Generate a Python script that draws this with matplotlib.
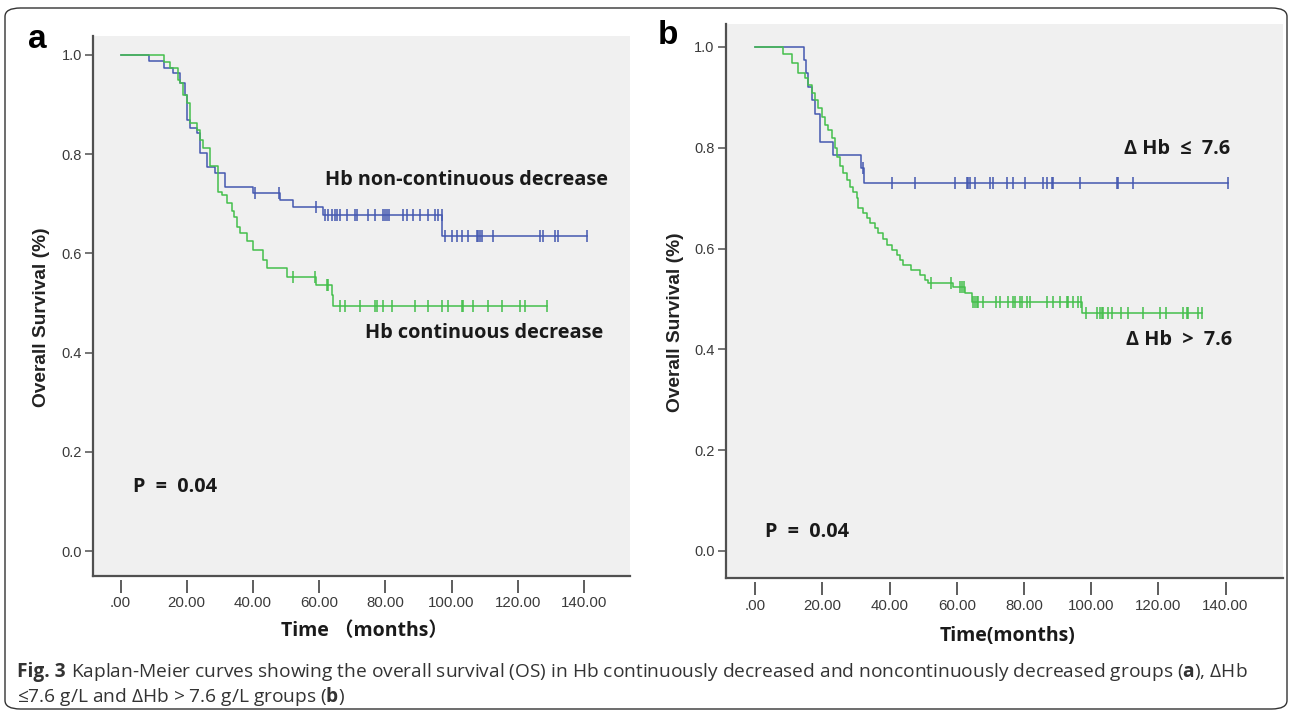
import numpy as np
import matplotlib
matplotlib.use("Agg")
import matplotlib.pyplot as plt
from matplotlib.patches import FancyBboxPatch

# ---- data ----
# panel a: Hb non-continuous decrease (blue) / continuous decrease (green)
a_blue_t = [0, 8.7, 13.1, 16.0, 18.0, 19.5, 20.0, 21.0, 23.0, 24.0, 26.0, 28.5, 31.6,
            40.1, 48.2, 52.2, 61.3, 97.2]
a_blue_s = [1.0, 0.987, 0.973, 0.963, 0.943, 0.919, 0.869, 0.852, 0.842, 0.802, 0.775,
            0.761, 0.734, 0.721, 0.708, 0.693, 0.677, 0.635]
a_blue_cens = [40.6, 47.9, 59.1, 61.8, 62.8, 63.8, 64.8, 65.5, 66.3, 68.3, 70.8, 71.4,
               74.9, 76.9, 79.4, 79.9, 80.4, 81.2, 85.4, 86.5, 88.5, 90.5, 93.0, 95.0,
               96.0, 97.0, 98.0, 100.1, 101.6, 103.1, 105.1, 107.6, 108.1, 108.6, 109.1,
               112.6, 126.7, 127.7, 131.3, 132.3, 140.8]

a_green_t = [0, 13.1, 15.0, 17.5, 18.0, 19.0, 20.0, 21.0, 23.0, 24.0, 25.0, 27.0, 29.4,
             30.6, 32.1, 33.6, 34.4, 35.1, 36.1, 38.1, 40.1, 43.1, 44.2, 50.2, 59.2,
             63.8, 64.3]
a_green_s = [1.0, 0.985, 0.973, 0.95, 0.943, 0.919, 0.903, 0.862, 0.849, 0.829, 0.812,
             0.776, 0.724, 0.718, 0.701, 0.686, 0.674, 0.654, 0.641, 0.624, 0.607, 0.587,
             0.570, 0.553, 0.536, 0.516, 0.493]
a_green_cens = [52.0, 58.6, 62.4, 62.8, 66.3, 67.8, 72.4, 76.9, 77.4, 79.4, 81.9, 89.0,
                93.0, 97.0, 99.0, 103.1, 103.6, 106.6, 111.1, 115.2, 120.7, 122.2, 128.8]

# panel b: dHb <= 7.6 (blue) / dHb > 7.6 (green)
b_blue_t = [0, 14.5, 15.0, 15.8, 16.8, 17.8, 19.3, 23.0, 31.5, 32.3]
b_blue_s = [1.0, 0.974, 0.948, 0.921, 0.895, 0.868, 0.812, 0.786, 0.759, 0.731]
b_blue_cens = [32.0, 40.8, 47.5, 59.4, 62.9, 63.4, 63.9, 65.4, 69.9, 70.8, 74.8, 76.8,
               80.3, 85.7, 86.7, 88.2, 88.7, 96.6, 107.6, 108.0, 112.5, 140.8]

b_green_t = [0, 8.3, 10.8, 12.8, 14.8, 15.8, 16.8, 17.8, 18.8, 19.8, 20.7, 21.7, 22.7,
             23.7, 24.2, 25.2, 26.2, 27.2, 28.2, 29.2, 30.2, 30.7, 32.1, 33.2, 34.1,
             35.6, 36.6, 38.1, 39.1, 40.6, 42.1, 43.1, 44.1, 46.5, 49.0, 50.5, 51.5,
             58.9, 62.3, 64.4, 97.3]
b_green_s = [1.0, 0.986, 0.968, 0.949, 0.938, 0.925, 0.908, 0.895, 0.878, 0.862, 0.845,
             0.835, 0.819, 0.799, 0.782, 0.763, 0.749, 0.736, 0.723, 0.713, 0.700, 0.680,
             0.670, 0.660, 0.650, 0.640, 0.630, 0.620, 0.607, 0.597, 0.587, 0.577, 0.567,
             0.558, 0.548, 0.538, 0.531, 0.524, 0.511, 0.495, 0.472]
b_green_cens = [52.2, 58.4, 61.0, 61.5, 62.0, 64.9, 65.4, 65.9, 66.4, 67.9, 71.8, 72.8,
                75.3, 76.8, 77.3, 78.8, 79.3, 80.8, 81.8, 86.7, 88.7, 90.7, 92.7, 93.2,
                94.6, 96.1, 97.1, 98.6, 101.6, 102.6, 103.1, 103.6, 105.1, 106.1, 109.0,
                111.0, 115.5, 120.4, 122.4, 127.4, 128.4, 128.9, 131.8, 132.9]

x_ticks = [0, 20, 40, 60, 80, 100, 120, 140]
x_labels = [".00", "20.00", "40.00", "60.00", "80.00", "100.00", "120.00", "140.00"]
y_ticks = [0.0, 0.2, 0.4, 0.6, 0.8, 1.0]

BLUE = "#4458b0"
GREEN = "#44bf4c"
BG = "#f0f0f0"
SPINE = "#505050"

plt.rcParams["mathtext.fontset"] = "custom"
plt.rcParams["mathtext.bf"] = "Open Sans:bold"
plt.rcParams["mathtext.rm"] = "Open Sans"

W, H = 1292, 713
fig = plt.figure(figsize=(W / 100, H / 100), dpi=100)
fig.patch.set_facecolor("white")


def km(ax, t, s, cens, color):
    t_end = max(max(cens), t[-1])
    ax.step(list(t) + [t_end], list(s) + [s[-1]], where="post", color=color, lw=1.1)
    idx = np.searchsorted(t, cens, side="right") - 1
    cy = np.array(s)[idx]
    ax.plot(cens, cy, ls="none", marker="|", ms=8, mew=1.1, color=color)


def setup(ax, xlim, ylim):
    ax.set_facecolor(BG)
    ax.set_xlim(*xlim)
    ax.set_ylim(*ylim)
    for side in ["top", "right"]:
        ax.spines[side].set_visible(False)
    for side in ["left", "bottom"]:
        ax.spines[side].set_color(SPINE)
        ax.spines[side].set_linewidth(1.6)
    ax.set_xticks([])
    ax.set_yticks(y_ticks)
    ax.set_yticklabels(["%.1f" % v for v in y_ticks], family="Liberation Sans",
                       fontsize=10.5, color="#3a3a3a")
    ax.tick_params(axis="y", direction="out", length=6, width=1.1, color=SPINE, pad=2)
    h = ax.get_position().height * H
    sec = ax.secondary_xaxis(-4.0 / h)
    sec.spines["bottom"].set_visible(False)
    sec.set_xticks(x_ticks)
    sec.set_xticklabels(x_labels, family="Liberation Sans", fontsize=10.8, color="#3a3a3a")
    sec.tick_params(direction="out", length=9, width=1.3, color=SPINE, pad=3)


# panel a
axA = fig.add_axes([93 / W, 1 - 575.5 / H, (630 - 93) / W, (575.5 - 36) / H])
setup(axA, (-8.31, 153.9), (-0.049, 1.038))
km(axA, a_blue_t, a_blue_s, a_blue_cens, BLUE)
km(axA, a_green_t, a_green_s, a_green_cens, GREEN)
ann = dict(family=["Open Sans", "DejaVu Sans"], fontweight="bold", fontsize=14.3,
           color="#1a1a1a")
axA.text(61.8, 0.748, "Hb non-continuous decrease", va="center", ha="left", **ann)
axA.text(73.9, 0.44, "Hb continuous decrease", va="center", ha="left", **ann)
axA.text(3.8, 0.129, "P  =  0.04", va="center", ha="left", **ann)

# panel b
axB = fig.add_axes([725.5 / W, 1 - 578 / H, (1283 - 725.5) / W, (578 - 24) / H])
setup(axB, (-8.87, 157.1), (-0.0536, 1.0456))
km(axB, b_blue_t, b_blue_s, b_blue_cens, BLUE)
km(axB, b_green_t, b_green_s, b_green_cens, GREEN)
axB.text(141.3, 0.798, "Δ Hb  ≤  7.6", va="center", ha="right", **ann)
axB.text(141.9, 0.419, "Δ Hb  >  7.6", va="center", ha="right", **ann)
axB.text(2.9, 0.038, "P  =  0.04", va="center", ha="left", **ann)

# axis titles
lab = dict(family=["Liberation Sans", "DejaVu Sans"], fontweight="bold", fontsize=13.8,
           color="#222222")
fig.text(42 / W, 1 - 317 / H, "Overall Survival (%)", rotation=90, ha="center", va="center", **lab)
fig.text(675 / W, 1 - 322 / H, "Overall Survival (%)", rotation=90, ha="center", va="center", **lab)
tl = dict(family=["Open Sans", "Noto Sans CJK SC"], fontweight="bold", fontsize=14,
          color="#1a1a1a")
fig.text(364 / W, 1 - 631 / H, "Time （months）", ha="center", va="center", **tl)
fig.text(1007 / W, 1 - 636 / H, "Time(months)", ha="center", va="center", **tl)

# panel letters
fig.text(37 / W, 1 - 40 / H, "a", family="Liberation Sans", fontweight="bold", fontsize=24,
         ha="center", va="center")
fig.text(668 / W, 1 - 36 / H, "b", family="Liberation Sans", fontweight="bold", fontsize=24,
         ha="center", va="center")

# caption
cap = dict(family=["Open Sans", "DejaVu Sans"], fontsize=13.8, color="#333333")
figlab = fig.text(17 / W, 1 - 672 / H, "Fig. 3", fontweight="bold", ha="left", va="center",
                  **cap)
fig.add_artist(plt.Annotation(
    r"Kaplan-Meier curves showing the overall survival (OS) in Hb "
    r"continuously decreased and noncontinuously decreased groups ($\mathbf{a}$), ΔHb",
    xy=(1, 0.5), xycoords=figlab, xytext=(4, 0), textcoords="offset points",
    ha="left", va="center", **cap))
fig.text(17 / W, 1 - 697 / H, r"≤7.6 g/L and ΔHb > 7.6 g/L groups ($\mathbf{b}$)",
         ha="left", va="center", **cap)

# rounded frame
frame = FancyBboxPatch((5 / W, 4 / H), 1282 / W, 701 / H,
                       boxstyle="round,pad=0,rounding_size=0.012",
                       transform=fig.transFigure, fill=False, ec="#333333", lw=1.0)
fig.patches.append(frame)

fig.savefig("out.png", dpi=100)
